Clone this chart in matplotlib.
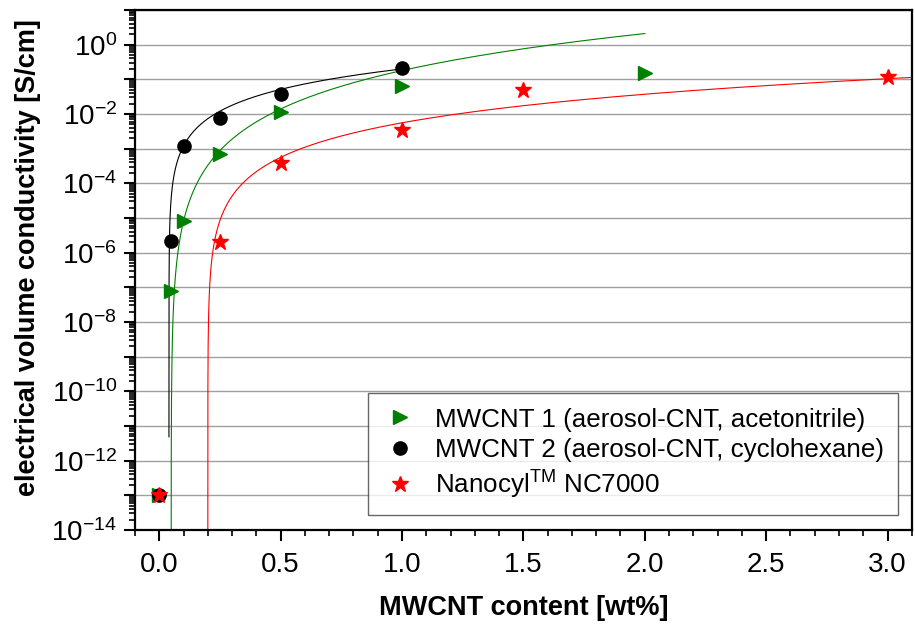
import numpy as np
import matplotlib
matplotlib.use("Agg")
import matplotlib.pyplot as plt
from matplotlib.ticker import FixedLocator, FuncFormatter, MultipleLocator, NullFormatter

plt.rcParams['font.family'] = ['Liberation Sans', 'DejaVu Sans']
plt.rcParams['mathtext.fontset'] = 'custom'
plt.rcParams['mathtext.rm'] = 'Liberation Sans'
plt.rcParams['mathtext.it'] = 'Liberation Sans:italic'
plt.rcParams['mathtext.bf'] = 'Liberation Sans:bold'

# ---- data ----
x_mw1 = [0.0, 0.05, 0.1, 0.25, 0.5, 1.0, 2.0]
y_mw1 = [1e-13, 7.6e-8, 8.0e-6, 6.8e-4, 1.17e-2, 6.6e-2, 1.55e-1]

x_mw2 = [0.0, 0.05, 0.1, 0.25, 0.5, 1.0]
y_mw2 = [1e-13, 2.2e-6, 1.23e-3, 7.7e-3, 3.8e-2, 2.1e-1]

x_nc = [0.0, 0.25, 0.5, 1.0, 1.5, 3.0]
y_nc = [1e-13, 2.1e-6, 3.8e-4, 3.5e-3, 5.0e-2, 1.2e-1]

labels = ["MWCNT 1 (aerosol-CNT, acetonitrile)",
          "MWCNT 2 (aerosol-CNT, cyclohexane)",
          r"Nanocyl$^{\mathrm{TM}}$ NC7000"]

# percolation fit parameters sigma = sigma0 * (phi - phi_c)^t
fit_mw1 = dict(sigma0=0.213, phi_c=0.049, t=3.42, x_end=2.0, d_min=1e-6)
fit_mw2 = dict(sigma0=0.215, phi_c=0.040, t=1.845, x_end=1.0, d_min=1.7e-6)
fit_nc = dict(sigma0=0.0094, phi_c=0.200, t=2.34, x_end=3.1, d_min=1e-7)

x_ticks_major = [0.0, 0.5, 1.0, 1.5, 2.0, 2.5, 3.0]
y_decades = list(range(-14, 2))


def fit_curve(sigma0, phi_c, t, x_end, d_min):
    d = np.geomspace(d_min, x_end - phi_c, 600)
    return phi_c + d, sigma0 * d ** t


fig = plt.figure(figsize=(9.15, 6.33), dpi=100)
ax = fig.add_axes([0.1475, 0.1627, 0.849, 0.8215])

for fit, col in [(fit_mw1, 'green'), (fit_mw2, 'black'), (fit_nc, 'red')]:
    fx, fy = fit_curve(**fit)
    ax.plot(fx, fy, color=col, lw=0.8, zorder=2)

ax.plot(x_mw1, y_mw1, ls='none', marker='>', ms=10.5, color='#008000',
        mec='#008000', label=labels[0], zorder=3)
ax.plot(x_mw2, y_mw2, ls='none', marker='o', ms=9.5, color='black',
        label=labels[1], zorder=4)
ax.plot(x_nc, y_nc, ls='none', marker='*', ms=12, color='red', mec='red',
        label=labels[2], zorder=5)

ax.set_yscale('log')
ax.set_xlim(-0.1, 3.1)
ax.set_ylim(1e-14, 10)

ax.xaxis.set_major_locator(FixedLocator(x_ticks_major))
ax.xaxis.set_minor_locator(MultipleLocator(0.1))
ax.xaxis.set_major_formatter(FuncFormatter(lambda v, p: f"{v:.1f}"))

ax.yaxis.set_major_locator(FixedLocator([10.0 ** k for k in y_decades]))
minor = [m * 10.0 ** k for k in y_decades[:-1] for m in range(2, 10)]
ax.yaxis.set_minor_locator(FixedLocator(minor))
ax.yaxis.set_minor_formatter(NullFormatter())


def yfmt(v, p):
    k = int(round(np.log10(v)))
    if k % 2 == 0 and k <= 0:
        return r"$\mathrm{10^{%d}}$" % k
    return ""


ax.yaxis.set_major_formatter(FuncFormatter(yfmt))

ax.grid(True, axis='y', which='major', color='#a0a0a0', lw=1.0, zorder=0)
ax.set_axisbelow(True)

ax.tick_params(axis='both', which='major', direction='out', length=8, width=1.5,
               labelsize=20, pad=8)
ax.tick_params(axis='both', which='minor', direction='out', length=4, width=1.2)
ax.tick_params(axis='y', which='major', pad=5)

for s in ax.spines.values():
    s.set_linewidth(1.6)

ax.set_xlabel("MWCNT content [wt%]", fontsize=19.5, fontweight='bold', labelpad=12)
ax.set_ylabel("electrical volume conductivity [S/cm]", fontsize=19.5,
              fontweight='bold')
ax.yaxis.set_label_coords(-0.121, 0.523)

leg = ax.legend(loc='lower right', bbox_to_anchor=(0.982, 0.0288), borderaxespad=0,
                fontsize=18.7, frameon=True, fancybox=False, edgecolor='#404040',
                handlelength=1.38, handletextpad=0.65, labelspacing=0.25,
                borderpad=0.55, numpoints=1)
leg.get_frame().set_linewidth(1.0)

fig.savefig("out.png", dpi=100)
